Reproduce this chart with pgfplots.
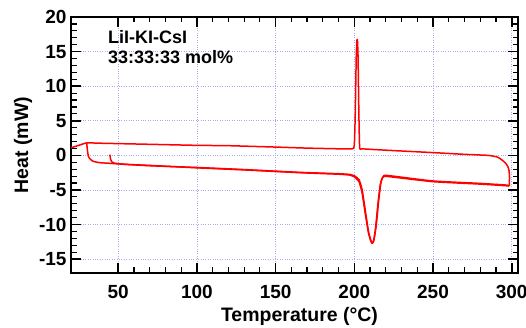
\documentclass[border=0pt]{standalone}
\usepackage{pgfplots}
\pgfplotsset{compat=1.18}
\usepackage{fontspec}
\setmainfont{Liberation Sans}
\definecolor{gridc}{RGB}{170,170,240}
\begin{document}
\begin{tikzpicture}
\begin{axis}[
  name=ax,
  scale only axis,
  width=447pt, height=256pt,
  xmin=20, xmax=304, ymin=-17, ymax=20,
  xtick={50,100,150,200,250,300},
  xticklabels={50,100,150,200,250,300},
  ytick={-15,-10,-5,0,5,10,15,20},
  yticklabels={-15,-10,-5,0,5,10,15,20},
  minor x tick num=4, minor y tick num=4,
  tick align=inside,
  major tick length=10pt, minor tick length=5.5pt,
  every tick/.style={black, line width=1.6pt},
  minor tick style={line width=1.2pt},
  axis line style={line width=2pt},
  grid=major,
  major grid style={gridc, dotted, line width=0.8pt},
  tick label style={font=\fontsize{19}{22}\selectfont\bfseries},
  xticklabel style={yshift=-9pt},
  yticklabel style={xshift=-1pt},
  xlabel={Temperature (°C)},
  ylabel={Heat (mW)},
  label style={font=\fontsize{19.5}{22}\selectfont\bfseries},
  xlabel style={yshift=-1pt, xshift=5pt},
  ylabel style={yshift=0pt},
  clip=true,
]
% heating 1 (starting near 45 C)
\addplot[red, line width=1.5pt, line join=round, smooth, tension=0.3] coordinates {
(44.7,0.1) (45.2,-0.6) (46,-0.95) (48,-1.15) (55,-1.3) (70,-1.5) (100,-1.75) (130,-2.05) (165,-2.45) (190,-2.65) (197,-2.75) (200,-2.95) (203,-3.5) (205,-5) (207,-8) (209,-11) (210.5,-12.3) (211.5,-12.7) (212.5,-12.2) (214,-10) (215.5,-6.5) (217,-3.8) (218.5,-3.0) (221,-2.9) (250,-3.7) (280,-4.05) (297,-4.3) (298.5,-4.4)
};
% cooling
\addplot[red, line width=1.5pt, line join=round, smooth, tension=0.3] coordinates {
(298.5,-4.4) (298.6,-3.2) (298.3,-2.2) (297.5,-1.6) (296,-1.1) (294,-0.7) (291,-0.25) (285,0.0) (270,0.15) (250,0.4) (220,0.75) (205,0.95) (203.4,1.1) (202.9,6) (202.4,14) (202.0,16.6) (201.6,16.6) (201.2,14) (200.6,6) (200.0,1.5) (198.8,0.95) (190,0.95) (170,1.05) (150,1.2) (120,1.4) (100,1.45) (70,1.6) (40,1.75) (30,1.8) (25,1.45) (20,1.1)
};
% heating 2 (starting near 30 C)
\addplot[red, line width=1.5pt, line join=round, smooth, tension=0.3] coordinates {
(30,1.75) (30.4,0.8) (31,-0.1) (32,-0.5) (34,-0.85) (38,-1.05) (45,-1.15) (55,-1.3) (70,-1.45) (100,-1.8) (130,-2.1) (165,-2.5) (190,-2.72) (197,-2.85) (200,-3.1) (203,-3.8) (205,-5.5) (207,-8.5) (209,-11.2) (210.5,-12.4) (211.3,-12.7) (212.3,-12.3) (213.5,-10.5) (215,-7) (216.5,-4.2) (218,-3.2) (221,-3.05) (250,-3.8) (280,-4.15) (297,-4.4) (298.5,-4.45)
};
\node[anchor=north west, align=left, font=\fontsize{18}{20}\selectfont\bfseries, inner sep=0pt] at (axis cs:43.5,18.1) {LiI-KI-CsI\\33:33:33 mol\%};
\end{axis}
\pgfresetboundingbox
\path ([xshift=-71pt,yshift=-55pt]ax.south west) rectangle ([xshift=8pt,yshift=17pt]ax.north east);
\end{tikzpicture}
\end{document}
